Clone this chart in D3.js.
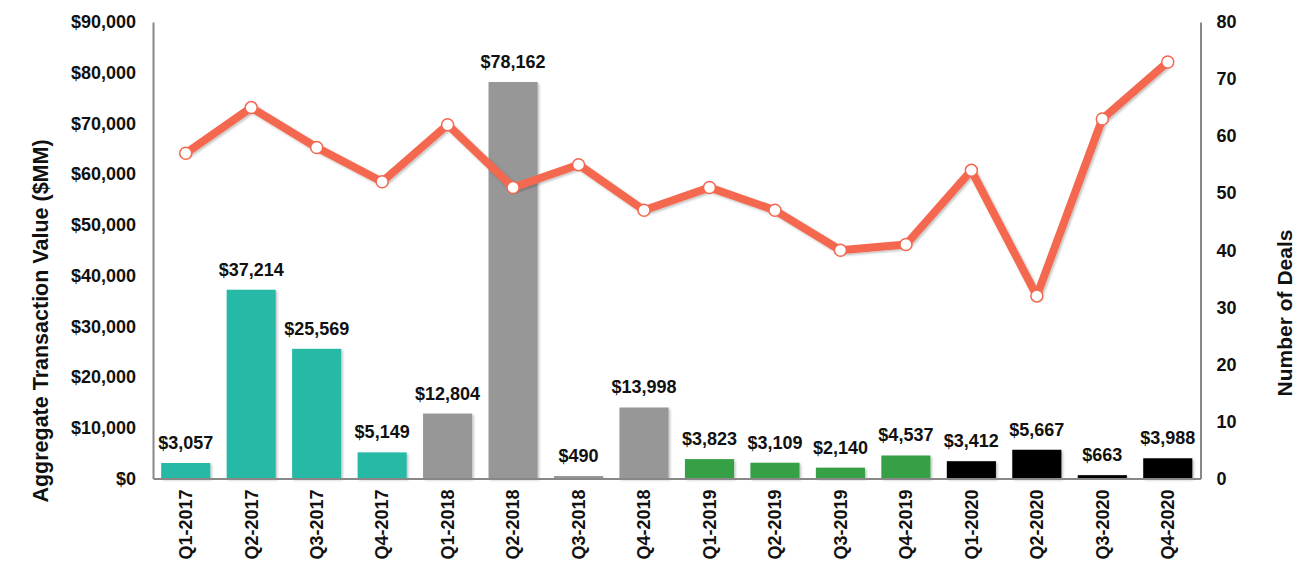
<!DOCTYPE html>
<html>
<head>
<meta charset="utf-8">
<script src="https://cdn.jsdelivr.net/npm/d3@7/dist/d3.min.js"></script>
<style>
  html, body { margin: 0; padding: 0; background: #fff; }
  svg { display: block; font-family: "Liberation Sans", Arial, sans-serif; }
</style>
</head>
<body>
<svg id="chart" width="1302" height="586"></svg>
<script>
const categories = ["Q1-2017","Q2-2017","Q3-2017","Q4-2017","Q1-2018","Q2-2018","Q3-2018","Q4-2018",
                    "Q1-2019","Q2-2019","Q3-2019","Q4-2019","Q1-2020","Q2-2020","Q3-2020","Q4-2020"];
const values = [3057, 37214, 25569, 5149, 12804, 78162, 490, 13998,
                3823, 3109, 2140, 4537, 3412, 5667, 663, 3988];
const deals = [57, 65, 58, 52, 62, 51, 55, 47, 51, 47, 40, 41, 54, 32, 63, 73];
const years = ["2017","2018","2019","2020"];
const yearColors = ["#27B9A6", "#979797", "#35A045", "#000000"];
const leftTicks = [0,10000,20000,30000,40000,50000,60000,70000,80000,90000];
const rightTicks = [0,10,20,30,40,50,60,70,80];

const svg = d3.select("#chart");
const mLeft = 153, mRight = 1200.5, mTop = 22, mBottom = 478.5;

const x = d3.scaleBand().domain(categories).range([mLeft, mRight]).paddingInner(0.25).paddingOuter(0.125);
const yL = d3.scaleLinear().domain([0, 90000]).range([mBottom, mTop]);
const yR = d3.scaleLinear().domain([0, 80]).range([mBottom, mTop]);
const color = d3.scaleOrdinal().domain(years).range(yearColors);
const fmt = d => "$" + d3.format(",")(d);

const defs = svg.append("defs");
const f = defs.append("filter").attr("id","shadow").attr("x","-20%").attr("y","-20%").attr("width","140%").attr("height","140%");
f.append("feDropShadow").attr("dx",1.5).attr("dy",1.5).attr("stdDeviation",1.2).attr("flood-color","#000").attr("flood-opacity",0.25);

// bars
svg.append("g").selectAll("rect").data(categories).join("rect")
  .attr("x", d => x(d))
  .attr("width", x.bandwidth())
  .attr("y", (d,i) => yL(values[i]))
  .attr("height", (d,i) => yL(0) - yL(values[i]))
  .attr("fill", d => color(d.slice(3)))
  .attr("filter","url(#shadow)");

// bar labels
svg.append("g").selectAll("text").data(categories).join("text")
  .attr("x", d => x(d) + x.bandwidth()/2)
  .attr("y", (d,i) => yL(values[i]) - 14)
  .attr("text-anchor","middle")
  .attr("font-size", 18)
  .attr("font-weight","bold")
  .attr("fill","#111")
  .text((d,i) => fmt(values[i]));

// axes
const axL = svg.append("g").attr("transform",`translate(${mLeft},0)`)
  .call(d3.axisLeft(yL).tickValues(leftTicks).tickFormat(fmt).tickSize(0).tickPadding(17));
const axR = svg.append("g").attr("transform",`translate(${mRight},0)`)
  .call(d3.axisRight(yR).tickValues(rightTicks).tickSize(0).tickPadding(16));
const axB = svg.append("g").attr("transform",`translate(0,${mBottom})`)
  .call(d3.axisBottom(x).tickSize(0).tickPadding(10));

[axL, axR, axB].forEach(a => {
  a.select(".domain").attr("stroke","#888").attr("stroke-width",2);
  a.selectAll("text").attr("font-size",18).attr("font-weight","bold").attr("fill","#111")
    .attr("font-family","\"Liberation Sans\", Arial, sans-serif");
});
axB.selectAll("text").attr("font-size",18)
  .attr("transform","rotate(-90)")
  .attr("text-anchor","end")
  .attr("x",-11).attr("y",0).attr("dy","0.35em");

// line
const line = d3.line().x((d,i) => x(categories[i]) + x.bandwidth()/2).y(d => yR(d));
svg.append("path").datum(deals)
  .attr("d", line)
  .attr("fill","none")
  .attr("stroke","#F4684F")
  .attr("stroke-width",8)
  .attr("stroke-linejoin","round")
  .attr("filter","url(#shadow)");
svg.append("g").selectAll("circle").data(deals).join("circle")
  .attr("cx",(d,i) => x(categories[i]) + x.bandwidth()/2)
  .attr("cy", d => yR(d))
  .attr("r",6)
  .attr("fill","#fff")
  .attr("stroke","#F4684F")
  .attr("stroke-width",1.5);

// axis titles
svg.append("text")
  .attr("transform",`translate(48,321) rotate(-90)`)
  .attr("text-anchor","middle")
  .attr("font-size",21.5).attr("font-weight","bold").attr("fill","#111")
  .text("Aggregate Transaction Value ($MM)");
svg.append("text")
  .attr("transform",`translate(1292,313) rotate(-90)`)
  .attr("text-anchor","middle")
  .attr("font-size",21).attr("font-weight","bold").attr("fill","#111")
  .text("Number of Deals");
</script>
</body>
</html>
